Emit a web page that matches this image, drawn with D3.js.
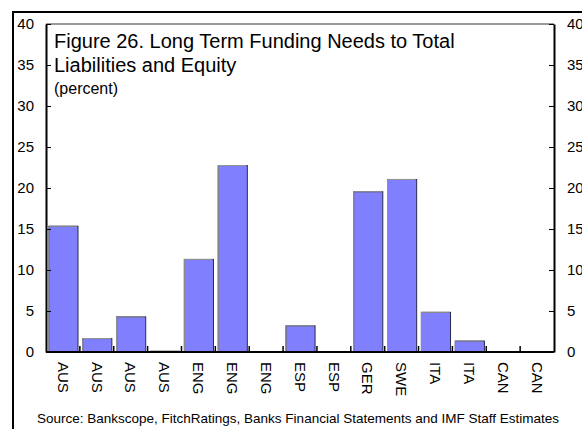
<!DOCTYPE html>
<html>
<head>
<meta charset="utf-8">
<script src="https://cdn.jsdelivr.net/npm/d3@7"></script>
<style>
    body { margin: 0; background: #fff; }
    svg { display: block; font-family: Arial, "Liberation Sans", sans-serif; }
</style>
</head>
<body>
<div id="chart"></div>
<script>

// data
var categories = ['AUS', 'AUS', 'AUS', 'AUS', 'ENG', 'ENG', 'ENG', 'ESP', 'ESP', 'GER', 'SWE', 'ITA', 'ITA', 'CAN', 'CAN']
var values = [15.4, 1.7, 4.35, 0.15, 11.35, 22.8, 0, 3.25, 0, 19.6, 21.1, 4.9, 1.4, 0, 0]
var yTicks = [0, 5, 10, 15, 20, 25, 30, 35, 40]

var title_lines = ['Figure 26. Long Term Funding Needs to Total', 'Liabilities and Equity']
var subtitle = '(percent)'
var source_text = 'Source: Bankscope, FitchRatings, Banks Financial Statements and IMF Staff Estimates'

var config = {
    'width': 582,
    'height': 429,
    'plot': { 'left': 46, 'right': 554, 'top': 24, 'bottom': 352 }
}

var dataset = categories.map(function(c, i) {
    return { 'idx': i, 'country': c, 'value': values[i] }
})

var svg = d3.select('#chart').append('svg')
.attr('width', config.width)
.attr('height', config.height)

// outer frame
svg.append('rect')
.attr('x', 13)
.attr('y', 12)
.attr('width', 620)
.attr('height', 460)
.style('fill', 'none')
.style('stroke', '#000')
.style('stroke-width', 2)

// scales
var xScale = d3.scaleBand()
.domain(d3.range(categories.length))
.range([config.plot.left, config.plot.right])
.paddingInner(0.14)
.paddingOuter(0.07)

var yScale = d3.scaleLinear()
.domain([0, 40])
.range([config.plot.bottom, config.plot.top])

// top border of plot area
svg.append('line')
.attr('x1', config.plot.left)
.attr('x2', config.plot.right)
.attr('y1', config.plot.top)
.attr('y2', config.plot.top)
.style('stroke', '#999')
.style('stroke-width', 2)

// bars
var bars = svg.append('g').classed('bars', true)

bars.selectAll('rect')
.data(dataset.filter(d => d.value > 0))
.enter()
.append('rect')
.attr('x', d => xScale(d.idx) + 0.5)
.attr('y', d => yScale(d.value) + 0.5)
.attr('width', xScale.bandwidth())
.attr('height', d => yScale(0) - yScale(d.value))
.style('fill', '#8080ff')
.style('stroke', '#2a2a50')
.style('stroke-width', 1)

// gray highlight on top and left edge of each bar
bars.selectAll('path.hl')
.data(dataset.filter(d => d.value > 0))
.enter()
.append('path')
.classed('hl', true)
.attr('d', function(d) {
    var x0 = xScale(d.idx) + 0.5
    var y0 = yScale(d.value) + 0.5
    return 'M' + x0 + ',' + yScale(0) + 'V' + y0 + 'H' + (x0 + xScale.bandwidth() - 1)
})
.style('fill', 'none')
.style('stroke', '#999')
.style('stroke-width', 1)

// left axis
var yAxisLeft = svg.append('g')
.classed('y axis left', true)
.attr('transform', 'translate(' + config.plot.left + ',0)')
.call(d3.axisRight(yScale).tickValues(yTicks).tickSize(5).tickSizeOuter(0).tickFormat(''))

yAxisLeft.select('.domain').style('stroke', '#000').style('stroke-width', 2)

svg.append('g')
.selectAll('text')
.data(yTicks)
.enter()
.append('text')
.attr('x', 34)
.attr('y', d => yScale(d))
.attr('dy', '0.35em')
.attr('text-anchor', 'end')
.style('font-size', '15px')
.text(d => d)

// right axis
var yAxisRight = svg.append('g')
.classed('y axis right', true)
.attr('transform', 'translate(' + config.plot.right + ',0)')
.call(d3.axisLeft(yScale).tickValues(yTicks).tickSize(5).tickSizeOuter(0).tickFormat(''))

yAxisRight.select('.domain').style('stroke', '#000').style('stroke-width', 2)

svg.append('g')
.selectAll('text')
.data(yTicks)
.enter()
.append('text')
.attr('x', 567)
.attr('y', d => yScale(d))
.attr('dy', '0.35em')
.style('font-size', '15px')
.text(d => d)

// x axis: ticks between categories pointing up
var xEdges = d3.range(1, categories.length).map(i => xScale(i) - xScale.step() * xScale.paddingInner() / 2)

var xAxis = svg.append('g').classed('x axis', true)

xAxis.append('line')
.attr('x1', config.plot.left)
.attr('x2', config.plot.right)
.attr('y1', yScale(0))
.attr('y2', yScale(0))
.style('stroke', '#000')
.style('stroke-width', 2)

xAxis.selectAll('line.tick')
.data(xEdges)
.enter()
.append('line')
.classed('tick', true)
.attr('x1', d => d)
.attr('x2', d => d)
.attr('y1', yScale(0))
.attr('y2', yScale(0) - 6)
.style('stroke', '#000')
.style('stroke-width', 1.5)

xAxis.selectAll('text')
.data(dataset)
.enter()
.append('text')
.attr('transform', d => 'translate(' + (xScale(d.idx) + xScale.bandwidth() / 2) + ',' + (yScale(0) + 10) + ') rotate(90)')
.attr('dy', '0.35em')
.style('font-size', '15px')
.text(d => d.country)

// titles
var title = svg.append('g').classed('title', true)

title.selectAll('text.line')
.data(title_lines)
.enter()
.append('text')
.classed('line', true)
.attr('x', 54)
.attr('y', (d, i) => 48 + i * 24)
.style('font-size', '20px')
.text(d => d)

title.append('text')
.attr('x', 54)
.attr('y', 94)
.style('font-size', '16px')
.text(subtitle)

// source
svg.append('text')
.attr('x', 298)
.attr('y', 423)
.attr('text-anchor', 'middle')
.style('font-size', '13.5px')
.text(source_text)

</script>
</body>
</html>
